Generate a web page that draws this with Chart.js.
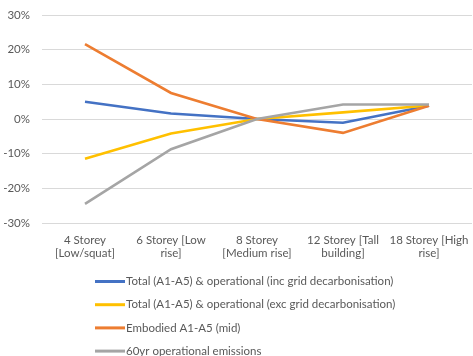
<!DOCTYPE html>
<html>
<head>
<meta charset="utf-8">
<script src="https://cdn.jsdelivr.net/npm/chart.js@4/dist/chart.umd.min.js"></script>
<style>
  html, body { margin: 0; padding: 0; background: #fff; }
  #wrap { width: 473px; height: 356px; }
</style>
</head>
<body>
<div id="wrap"><canvas id="c"></canvas></div>
<script>
const categories = [
  ['4 Storey', '[Low/squat]'],
  ['6 Storey [Low', 'rise]'],
  ['8 Storey', '[Medium rise]'],
  ['12 Storey [Tall', 'building]'],
  ['18 Storey [High', 'rise]']
];
const seriesNames = [
  'Total (A1-A5) & operational (inc grid decarbonisation)',
  'Total (A1-A5) & operational (exc grid decarbonisation)',
  'Embodied A1-A5 (mid)',
  '60yr operational emissions'
];
const totalIncGrid = [5.0, 1.6, 0.0, -1.1, 3.8];
const totalExcGrid = [-11.5, -4.2, 0.0, 1.9, 3.9];
const embodied = [21.6, 7.5, 0.0, -4.0, 3.8];
const operational60 = [-24.5, -8.7, 0.0, 4.2, 4.2];
const yTicks = [30, 20, 10, 0, -10, -20, -30];

const colors = ['#4472C4', '#FFC000', '#ED7D31', '#A5A5A5'];
const textColor = '#595959';
const fontFamily = 'Lato, "Open Sans", sans-serif';
const fontSize = 11.5;

// Vertical legend list drawn under the axis labels
const listLegend = {
  id: 'listLegend',
  afterDraw(chart) {
    const ctx = chart.ctx;
    const x0 = 95;
    const top = chart.chartArea.bottom + 58.5;
    ctx.save();
    ctx.font = fontSize + 'px ' + fontFamily;
    ctx.textBaseline = 'middle';
    ctx.fillStyle = textColor;
    chart.data.datasets.forEach((ds, i) => {
      const y = top + i * 23.2;
      ctx.strokeStyle = ds.borderColor;
      ctx.lineWidth = 3;
      ctx.beginPath();
      ctx.moveTo(x0, y);
      ctx.lineTo(x0 + 30, y);
      ctx.stroke();
      ctx.fillText(ds.label, x0 + 31, y);
    });
    ctx.restore();
  }
};

const series = [totalIncGrid, totalExcGrid, embodied, operational60];

new Chart(document.getElementById('c'), {
  type: 'line',
  data: {
    labels: categories,
    datasets: series.map((vals, i) => ({
      label: seriesNames[i],
      data: vals,
      borderColor: colors[i],
      backgroundColor: colors[i],
      borderWidth: 2.6,
      pointRadius: 0,
      tension: 0,
      fill: false,
      order: 3 - i
    }))
  },
  options: {
    responsive: true,
    maintainAspectRatio: false,
    animation: false,
    layout: { padding: { top: 15, right: 1, bottom: 95, left: 0 } },
    plugins: {
      legend: { display: false },
      tooltip: { enabled: false }
    },
    scales: {
      x: {
        offset: true,
        grid: { display: false, drawTicks: false },
        border: { display: false },
        ticks: {
          color: textColor,
          font: { family: fontFamily, size: fontSize },
          padding: 10,
          maxRotation: 0,
          autoSkip: false
        },
        afterFit(scale) {
          scale.height = 38;
          scale.paddingLeft = 0;
          scale.paddingRight = 0;
        }
      },
      y: {
        min: -30,
        max: 30,
        afterBuildTicks(scale) {
          scale.ticks = yTicks.map(v => ({ value: v }));
        },
        grid: { color: '#D9D9D9', lineWidth: 1, drawTicks: false },
        border: { display: false },
        ticks: {
          color: textColor,
          font: { family: fontFamily, size: fontSize },
          padding: 12,
          callback: v => v + '%'
        },
        afterFit(scale) {
          scale.width = 42;
          scale.paddingTop = 0;
          scale.paddingBottom = 0;
        }
      }
    }
  },
  plugins: [listLegend]
});
</script>
</body>
</html>
